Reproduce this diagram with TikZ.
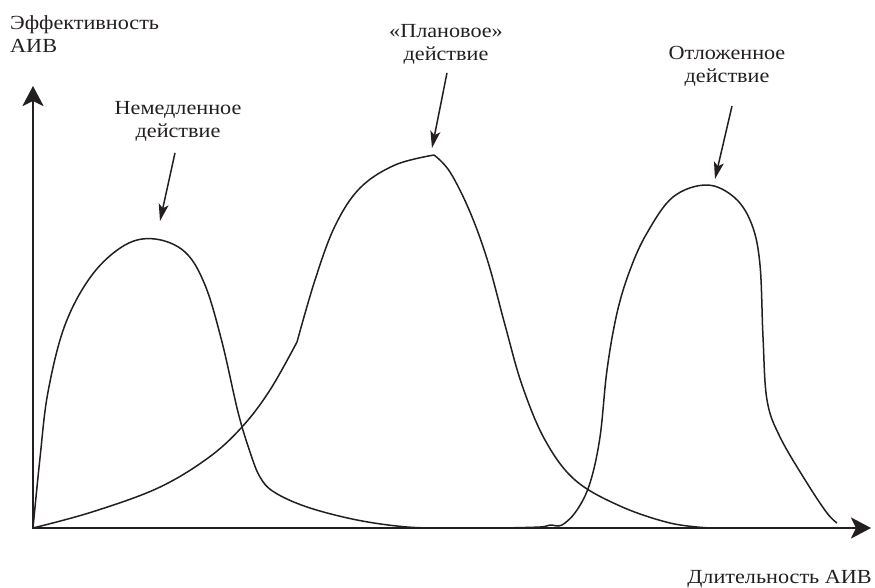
\documentclass[tikz,border=0pt]{standalone}
\usepackage{fontspec}
\setmainfont[FakeStretch=1.11]{Liberation Serif}
\usetikzlibrary{arrows.meta}
\definecolor{ink}{HTML}{231F20}
\begin{document}
\begin{tikzpicture}[x=1pt,y=-1pt,
  axis/.style={draw=ink,line width=2.8pt,-{Stealth[length=20pt,width=21pt,inset=5pt]}},
  curve/.style={draw=ink,line width=1.5pt,line join=round},
  pointer/.style={draw=ink,line width=1.5pt,-{Stealth[length=17pt,width=10pt,inset=4pt]}},
  lbl/.style={inner sep=0pt,font=\fontsize{20}{23.5}\selectfont,text=ink,align=center}]
\useasboundingbox (0,0) rectangle (875,588);
% axes
\coordinate (O) at (33,528);
\coordinate (ytip) at (33,86);
\coordinate (xtip) at (871,528);
\draw[axis] ([yshift=-1.4pt]O) -- (ytip);
\draw[axis] ([xshift=-1.4pt]O) -- (xtip);
% labels
\node[lbl,anchor=north west,align=left] (ylab) at (10,15) {Эффективность\\АИВ};
\node[lbl,anchor=base east] (xlab) at (872,583) {Длительность АИВ};
\node[lbl,anchor=north] (n1) at (178,101) {Немедленное\\действие};
\node[lbl,anchor=north] (n2) at (446,24) {«Плановое»\\действие};
\node[lbl,anchor=north] (n3) at (727,46) {Отложенное\\действие};
% pointer targets
\coordinate (t1) at (160,221);
\coordinate (t2) at (432,148);
\coordinate (t3) at (715,179);
\draw[pointer] ([xshift=-3pt,yshift=-11pt]n1.south) -- (t1);
\draw[pointer] ([xshift=1pt,yshift=-8pt]n2.south) -- (t2);
\draw[pointer] ([xshift=5pt,yshift=-19pt]n3.south) -- (t3);
% curve 1: immediate action
\draw[curve] plot[smooth,tension=0.6] coordinates {(33,528) (40,458) (48,392) (65,325) (92,275) (125,245) (155,239) (185,252) (205,285) (222,342) (238,412) (250,452) (260,477) (274,492) (307,507) (357,520) (407,527) (450,528)};
% curve 2: planned action
\draw[curve] plot[smooth,tension=0.6] coordinates {(33,528) (92,512) (158,488) (208,458) (242,427) (270,390) (297,342)};
\draw[curve] plot[smooth,tension=0.6] coordinates {(297,342) (315,280) (335,226) (360,188) (395,165) (434,155)};
\draw[curve] plot[smooth,tension=0.6] coordinates {(434,155) (450,172) (470,212) (488,262) (505,325) (522,385) (545,440) (575,480) (620,506) (670,523) (710,528)};
% curve 3: delayed action
\draw[curve] plot[smooth,tension=0.6] coordinates {(500,528) (540,527) (550,525) (562,525) (577,510) (590,483) (600,437) (607,370) (617,313) (630,270) (647,233) (673,197) (707,185) (735,198) (752,225) (760,265) (763,337) (767,400) (780,437) (807,483) (827,513) (837,523)};
\end{tikzpicture}
\end{document}
